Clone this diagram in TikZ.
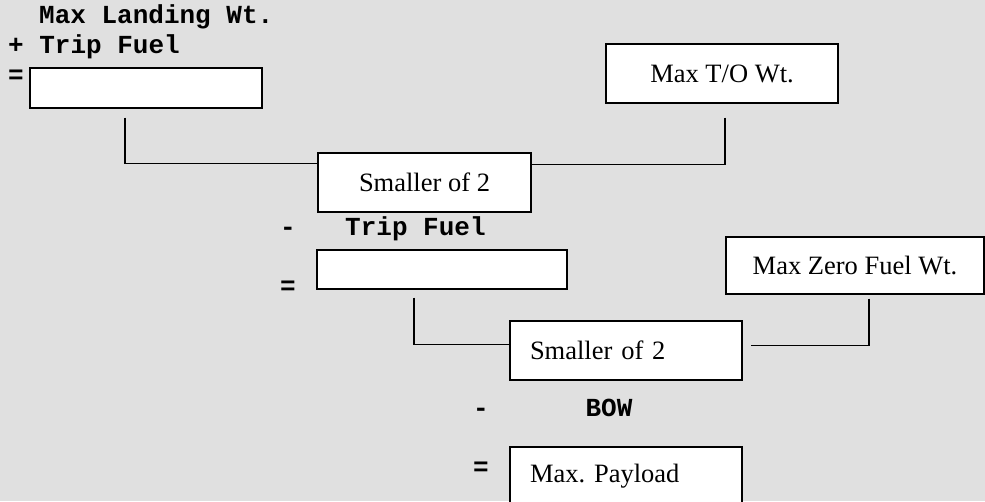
\documentclass[tikz,border=0pt]{standalone}
\usepackage{fontspec}
\setmainfont{Liberation Serif}
\setmonofont{Liberation Mono}
\usepackage{tikz}
\usetikzlibrary{calc}
\usetikzlibrary{positioning}
\definecolor{bgpanel}{RGB}{224,224,224}
\frenchspacing

\begin{document}
\begin{tikzpicture}[x=1pt,y=-1pt,
        box/.style={draw, line width=1.3pt, fill=white, minimum height=59pt, inner sep=0pt, font=\fontsize{26.5}{30}\selectfont},
        lbl/.style={inner sep=0pt, font=\ttfamily\bfseries\fontsize{26}{30}\selectfont},
        wire/.style={line width=1.3pt}]
        \useasboundingbox (0,0) rectangle (985,501);
        \fill[bgpanel] (0,0) rectangle (985,501);

        % first step
        \node[lbl, anchor=base west] (ldg) at (39,23) {Max Landing Wt.};
        \node[lbl, anchor=base west] (trip1) at (8,53) {+ Trip Fuel};
        \node[lbl] (eq1) at (16,77) {=};
        \node[box, minimum width=232pt, minimum height=40pt] (sum1) at (146,88) {};
        \node[box, minimum width=232pt] (tow) at (722,73.5) {Max T/O Wt.};
        \node[box, minimum width=213pt] (small1) at (424.5,182.5) {Smaller of 2};

        \draw[wire] ([xshift=-21pt,yshift=-9pt]sum1.south) |- ([yshift=-11pt]small1.north west);
        \draw[wire] ([xshift=3pt,yshift=-14pt]tow.south) |- ([yshift=-12pt]small1.north east);

        % second step
        \node[lbl] (minus1) at (288,231) {-};
        \node[lbl, anchor=base west] (trip2) at (345,235) {Trip Fuel};
        \node[lbl] (eq2) at (288,288) {=};
        \node[box, minimum width=250pt, minimum height=39pt] (sum2) at (442,269.5) {};
        \node[box, minimum width=258pt, minimum height=57pt] (zfw) at (855,265.5) {Max Zero Fuel Wt.};
        \node[box, text width=192pt, inner xsep=20pt, align=left] (small2) at (626,350.5) {Smaller of 2};

        \draw[wire] ([xshift=-28pt,yshift=-8pt]sum2.south) |- ([yshift=-24pt]small2.north west);
        \draw[wire] ([xshift=14pt,yshift=-4pt]zfw.south) |- ([xshift=8pt,yshift=-25pt]small2.north east);

        % result
        \node[lbl] (minus2) at (481,412) {-};
        \node[lbl] (bow) at (609,408) {BOW};
        \node[lbl] (eq3) at (481,469) {=};
        \node[box, text width=192pt, inner xsep=20pt, align=left] (payload) at (626,476.5) {Max. Payload};
    \end{tikzpicture}
\end{document}
